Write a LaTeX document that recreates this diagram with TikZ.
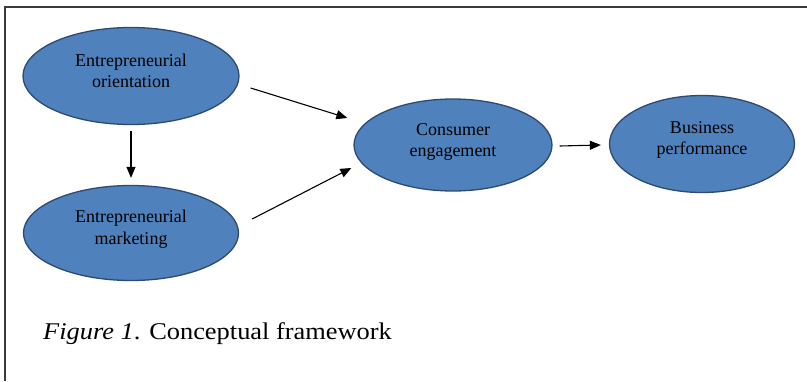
\documentclass[tikz,border=0pt]{standalone}
\usepackage{fontspec}
\setmainfont{Liberation Serif}
\newfontfamily\capfont[FakeStretch=1.1]{Liberation Serif}
\usetikzlibrary{shapes.geometric,arrows.meta,calc}
\definecolor{ellfill}{HTML}{4F81BD}
\definecolor{elldraw}{HTML}{2E4A70}
\definecolor{framecol}{HTML}{3A3A3A}
\tikzset{
  construct/.style={ellipse, draw=elldraw, fill=ellfill, line width=1.3pt, inner sep=0pt},
  lbl/.style={align=center, font=\fontsize{18}{21.5}\selectfont, text=black, inner sep=0pt},
  conn/.style={line width=1.1pt, -{Triangle[length=11pt,width=9pt]}},
}
\begin{document}
\begin{tikzpicture}[x=1pt,y=-1pt]
\useasboundingbox (0,0) rectangle (807,381);
\fill[white] (0,0) rectangle (807,381);
\draw[framecol, line width=1.4pt] (5,381) -- (5,7) -- (807,7);

\node[construct, minimum width=216pt, minimum height=97pt] (eo) at (131,76) {};
\node[construct, minimum width=215pt, minimum height=95pt] (em) at (131,233) {};
\node[construct, minimum width=198pt, minimum height=92pt] (ce) at (453,145) {};
\node[construct, minimum width=185pt, minimum height=97pt] (bp) at (702,144) {};

\node[lbl] (eoT) at ($(eo.center)+(0,-5)$) {Entrepreneurial\\orientation};
\node[lbl] (emT) at ($(em.center)+(0,-4)$) {Entrepreneurial\\marketing};
\node[lbl] (ceT) at ($(ce.center)+(0,-3)$) {Consumer\\engagement};
\node[lbl] (bpT) at ($(bp.center)+(0,-4)$) {Business\\performance};

\draw[conn] ($(eo.south)+(0,6)$) -- ($(em.north)+(0,-7)$);
\draw[conn] ($(eo.east)+(11,12)$) -- ($(ce.west)+(-6,-27)$);
\draw[conn] ($(em.east)+(13,-14)$) -- ($(ce.west)+(-2,23)$);
\draw[conn] ($(ce.east)+(7,1)$) -- ($(bp.west)+(-8,1)$);

\node[anchor=base west, inner sep=0pt, font=\capfont\fontsize{24}{27}\selectfont] (cap) at (43,339) {\textit{Figure 1}. Conceptual framework};
\end{tikzpicture}
\end{document}
